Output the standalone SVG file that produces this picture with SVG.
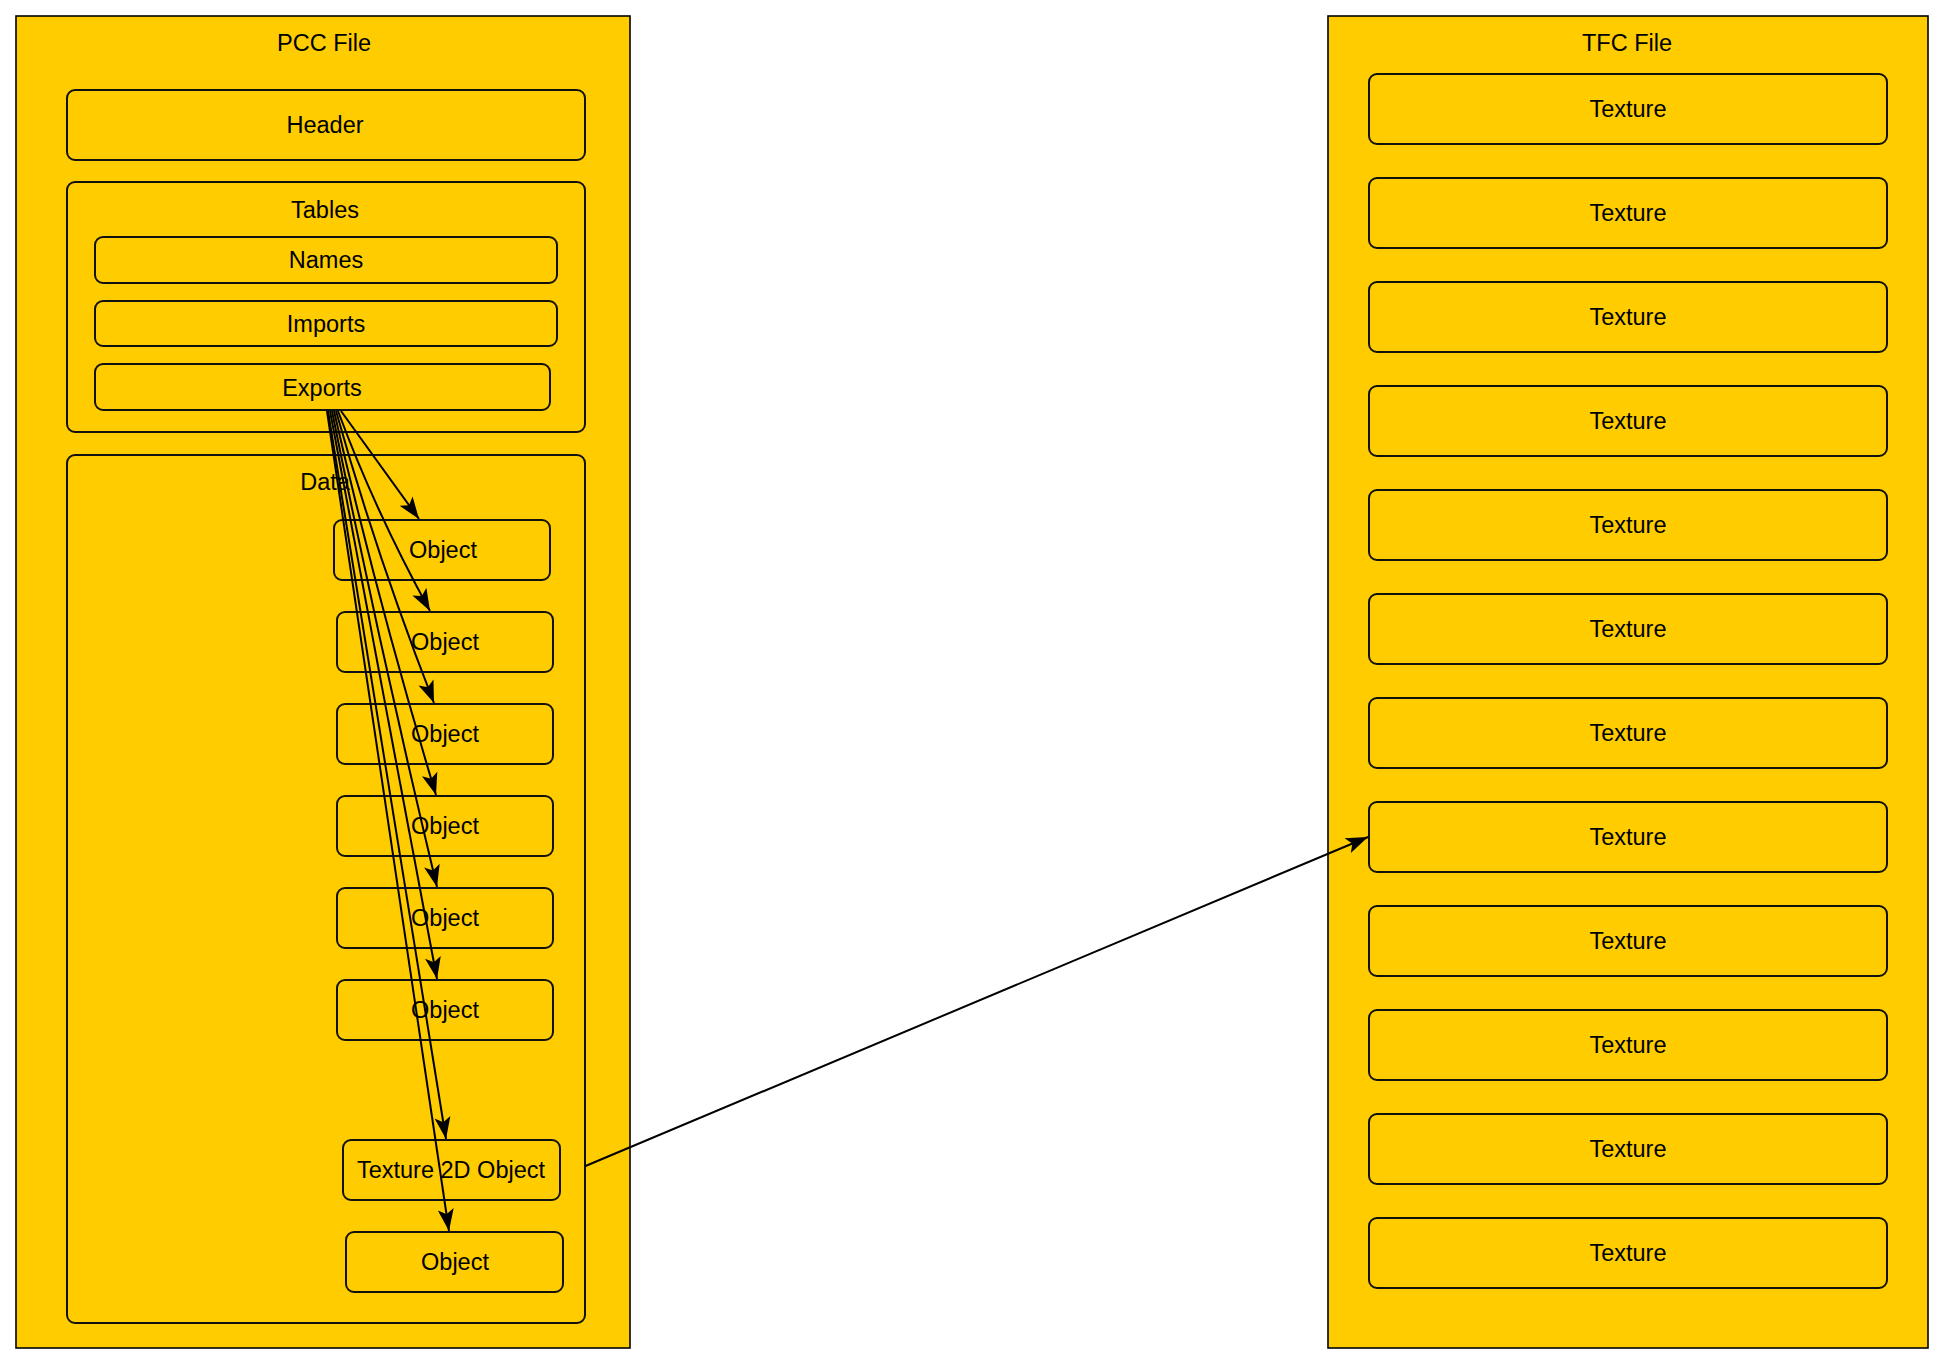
<svg xmlns="http://www.w3.org/2000/svg" width="1944" height="1364" viewBox="0 0 1944 1364">
<style>
.outer{fill:#FFCC00;stroke:#000;stroke-width:1.6}
.box{fill:#FFCC00;stroke:#111;stroke-width:2}
.lbl{font-family:"Liberation Sans",Arial,sans-serif;font-size:23.5px;fill:#000;text-anchor:middle}
.edge{fill:none;stroke:#000;stroke-width:2}
</style>
<defs>
<marker id="arr" markerUnits="userSpaceOnUse" markerWidth="23" markerHeight="17" refX="22" refY="8" orient="auto" overflow="visible">
<path d="M0,0 L22,8 L0,16 L5,8 z" fill="#000"/>
</marker>
</defs>
<rect width="1944" height="1364" fill="#fff"/>

<g id="pcc-file">
<rect class="outer" x="16" y="16" width="614" height="1332"/>
<text class="lbl" x="324" y="51">PCC File</text>
</g>
<g id="header">
<rect class="box" x="67" y="90" width="518" height="70" rx="8"/>
<text class="lbl" x="325" y="133">Header</text>
</g>
<g id="tables">
<rect class="box" x="67" y="182" width="518" height="250" rx="8"/>
<text class="lbl" x="325" y="218">Tables</text>
</g>
<g id="names">
<rect class="box" x="95" y="237" width="462" height="46" rx="8"/>
<text class="lbl" x="326" y="268">Names</text>
</g>
<g id="imports">
<rect class="box" x="95" y="301" width="462" height="45" rx="8"/>
<text class="lbl" x="326" y="332">Imports</text>
</g>
<g id="exports">
<rect class="box" x="95" y="364" width="455" height="46" rx="8"/>
<text class="lbl" x="322" y="396">Exports</text>
</g>
<g id="data">
<rect class="box" x="67" y="455" width="518" height="868" rx="8"/>
<text class="lbl" x="325" y="490">Data</text>
</g>
<g id="object1">
<rect class="box" x="334" y="520" width="216" height="60" rx="8"/>
<text class="lbl" x="443" y="558">Object</text>
</g>
<g id="object2">
<rect class="box" x="337" y="612" width="216" height="60" rx="8"/>
<text class="lbl" x="445" y="650">Object</text>
</g>
<g id="object3">
<rect class="box" x="337" y="704" width="216" height="60" rx="8"/>
<text class="lbl" x="445" y="742">Object</text>
</g>
<g id="object4">
<rect class="box" x="337" y="796" width="216" height="60" rx="8"/>
<text class="lbl" x="445" y="834">Object</text>
</g>
<g id="object5">
<rect class="box" x="337" y="888" width="216" height="60" rx="8"/>
<text class="lbl" x="445" y="926">Object</text>
</g>
<g id="object6">
<rect class="box" x="337" y="980" width="216" height="60" rx="8"/>
<text class="lbl" x="445" y="1018">Object</text>
</g>
<g id="texture2d">
<rect class="box" x="343" y="1140" width="217" height="60" rx="8"/>
<text class="lbl" x="451" y="1178">Texture 2D Object</text>
</g>
<g id="object7">
<rect class="box" x="346" y="1232" width="217" height="60" rx="8"/>
<text class="lbl" x="455" y="1270">Object</text>
</g>

<g id="tfc-file">
<rect class="outer" x="1328" y="16" width="600" height="1332"/>
<text class="lbl" x="1627" y="51">TFC File</text>
</g>
<g id="texture1"><rect class="box" x="1369" y="74" width="518" height="70" rx="8"/><text class="lbl" x="1628" y="117">Texture</text></g>
<g id="texture2"><rect class="box" x="1369" y="178" width="518" height="70" rx="8"/><text class="lbl" x="1628" y="221">Texture</text></g>
<g id="texture3"><rect class="box" x="1369" y="282" width="518" height="70" rx="8"/><text class="lbl" x="1628" y="325">Texture</text></g>
<g id="texture4"><rect class="box" x="1369" y="386" width="518" height="70" rx="8"/><text class="lbl" x="1628" y="429">Texture</text></g>
<g id="texture5"><rect class="box" x="1369" y="490" width="518" height="70" rx="8"/><text class="lbl" x="1628" y="533">Texture</text></g>
<g id="texture6"><rect class="box" x="1369" y="594" width="518" height="70" rx="8"/><text class="lbl" x="1628" y="637">Texture</text></g>
<g id="texture7"><rect class="box" x="1369" y="698" width="518" height="70" rx="8"/><text class="lbl" x="1628" y="741">Texture</text></g>
<g id="texture8"><rect class="box" x="1369" y="802" width="518" height="70" rx="8"/><text class="lbl" x="1628" y="845">Texture</text></g>
<g id="texture9"><rect class="box" x="1369" y="906" width="518" height="70" rx="8"/><text class="lbl" x="1628" y="949">Texture</text></g>
<g id="texture10"><rect class="box" x="1369" y="1010" width="518" height="70" rx="8"/><text class="lbl" x="1628" y="1053">Texture</text></g>
<g id="texture11"><rect class="box" x="1369" y="1114" width="518" height="70" rx="8"/><text class="lbl" x="1628" y="1157">Texture</text></g>
<g id="texture12"><rect class="box" x="1369" y="1218" width="518" height="70" rx="8"/><text class="lbl" x="1628" y="1261">Texture</text></g>

<g id="connectors">
<path class="edge" marker-end="url(#arr)" d="M341,411 L419,519"/>
<path class="edge" marker-end="url(#arr)" d="M338,411 Q375,511 430,611"/>
<path class="edge" marker-end="url(#arr)" d="M336,411 Q377,557 434,703"/>
<path class="edge" marker-end="url(#arr)" d="M334,411 Q378,603 436,795"/>
<path class="edge" marker-end="url(#arr)" d="M332,411 Q380,649 437,887"/>
<path class="edge" marker-end="url(#arr)" d="M330,411 L437,979"/>
<path class="edge" marker-end="url(#arr)" d="M328,411 L446,1139"/>
<path class="edge" marker-end="url(#arr)" d="M327,411 L449,1231"/>
<path class="edge" marker-end="url(#arr)" d="M585.5,1166 L1368,837"/>
</g>
</svg>
